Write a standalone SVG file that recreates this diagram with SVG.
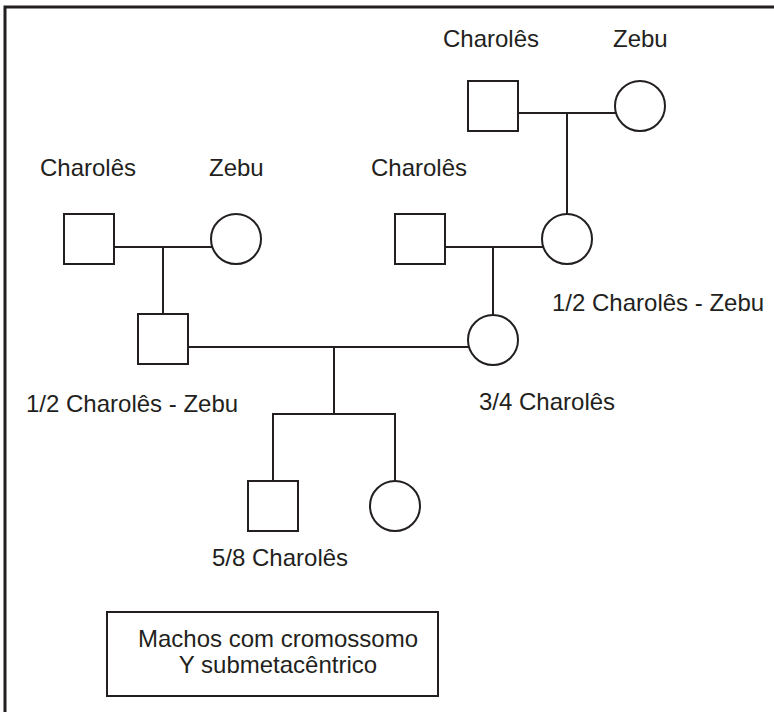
<svg xmlns="http://www.w3.org/2000/svg" width="774" height="712" viewBox="0 0 774 712">
<style>
.s{fill:#fff;stroke:#231f20;stroke-width:2}
.c line, .c polyline{stroke:#231f20;stroke-width:2;fill:none}
text{font-family:"Liberation Sans",Arial,sans-serif;font-size:24px;fill:#231f20}
</style>
<rect x="0" y="0" width="774" height="712" fill="#fff"/>
<rect x="5" y="7" width="790" height="730" fill="none" stroke="#231f20" stroke-width="3"/>
<g class="c" id="connectors">
<line x1="518" y1="113" x2="616" y2="113"/>
<line x1="567" y1="113" x2="567" y2="214"/>
<line x1="114" y1="247" x2="213" y2="247"/>
<line x1="163" y1="247" x2="163" y2="314"/>
<line x1="444" y1="247" x2="544" y2="247"/>
<line x1="493" y1="247" x2="493" y2="315"/>
<line x1="188" y1="347" x2="469" y2="347"/>
<line x1="334" y1="347" x2="334" y2="414"/>
<polyline points="273,481 273,414 395,414 395,481"/>
</g>
<g id="m1"><rect class="s" x="468" y="81" width="50" height="50"/><text x="443" y="47">Charolês</text></g>
<g id="f1"><circle class="s" cx="640" cy="106" r="25"/><text x="613" y="47">Zebu</text></g>
<g id="m2"><rect class="s" x="64" y="214" width="50" height="50"/><text x="40" y="176">Charolês</text></g>
<g id="f2"><circle class="s" cx="236" cy="239" r="25"/><text x="209" y="176">Zebu</text></g>
<g id="m3"><rect class="s" x="395" y="214" width="50" height="50"/><text x="371" y="176">Charolês</text></g>
<g id="f3"><circle class="s" cx="567" cy="239" r="25"/><text x="552" y="311">1/2 Charolês - Zebu</text></g>
<g id="m4"><rect class="s" x="138" y="314" width="50" height="50"/><text x="26" y="412">1/2 Charolês - Zebu</text></g>
<g id="f4"><circle class="s" cx="493" cy="340" r="25"/><text x="479" y="410">3/4 Charolês</text></g>
<g id="m5"><rect class="s" x="248" y="481" width="50" height="50"/><text x="212" y="566">5/8 Charolês</text></g>
<g id="f5"><circle class="s" cx="395" cy="506" r="25"/></g>
<g id="legend"><rect class="s" x="107" y="612" width="331" height="84"/>
<text x="278" y="647" text-anchor="middle">Machos com cromossomo</text>
<text x="278" y="673" text-anchor="middle">Y submetacêntrico</text></g>
</svg>
